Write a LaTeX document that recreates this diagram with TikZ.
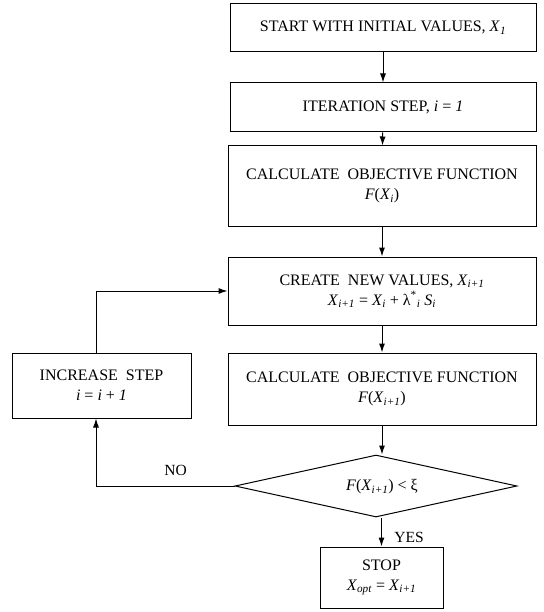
\documentclass[tikz,border=0pt]{standalone}
\usepackage{fontspec}
\setmainfont{Liberation Serif}
\usetikzlibrary{shapes.geometric,arrows.meta}
\newcommand{\vx}[1]{\textit{#1}}
\newcommand{\sbs}[1]{\textsubscript{\textit{#1}}}
\begin{document}
\begin{tikzpicture}[x=1pt,y=-1pt,
  every node/.style={font=\fontsize{16}{20}\selectfont},
  box/.style={draw,line width=1pt,rectangle,align=center,inner sep=2pt},
  flow/.style={line width=1pt,-{Latex[length=9pt,width=6pt]}},
  lbl/.style={font=\fontsize{15.5}{18}\selectfont}]
\useasboundingbox (0,0) rectangle (543,612);
\node[box,minimum width=306pt,minimum height=48pt] (b1) at (383,28) {START\ WITH\ INITIAL\ VALUES,\ \vx{X}\sbs{1}};
\node[box,minimum width=306pt,minimum height=49pt] (b2) at (383,107.5) {ITERATION STEP, \vx{i} = \vx{1}};
\node[box,minimum width=308pt,minimum height=80pt] (b3) at (382,186) {CALCULATE\ \ OBJECTIVE FUNCTION\\\vx{F}(\vx{X}\sbs{i})};
\node[box,minimum width=308pt,minimum height=68pt] (b4) at (382,291) {CREATE\ \ NEW VALUES, \vx{X}\sbs{i+1}\\\vx{X}\sbs{i+1} = \vx{X}\sbs{i} + λ\textsuperscript{*}\sbs{i} \vx{S}\sbs{i}};
\node[box,minimum width=308pt,minimum height=72pt] (b5) at (382,389) {CALCULATE\ \ OBJECTIVE FUNCTION\\\vx{F}(\vx{X}\sbs{i+1})};
\node[draw,line width=1pt,diamond,minimum width=282pt,minimum height=62pt,inner sep=0pt] (d) at (376,486) {};
\node (dt) at (382,487) {\vx{F}(\vx{X}\sbs{i+1}) < ξ};
\node[box,minimum width=123pt,minimum height=61pt] (stop) at (381.5,577.5) {STOP\\\vx{X}\sbs{opt} = \vx{X}\sbs{i+1}};
\node[box,minimum width=179pt,minimum height=65pt] (inc) at (101.5,385.5) {INCREASE\ \ STEP\\\vx{i} = \vx{i} + \vx{1}};
\coordinate (lx) at (96,0);
\draw[flow] (b1) -- (b2);
\draw[flow] (b2) -- (b3);
\draw[flow] (b3) -- (b4);
\draw[flow] (b4) -- (b5);
\draw[flow] (b5.south) -- (d.north -| b5.south);
\draw[flow] (d.south -| stop.north) -- (stop.north);
\draw[flow] (d.west) -| (lx |- inc.south);
\draw[flow] (lx |- inc.north) |- (b4.west);
\node[lbl] (no) at (175.5,470.5) {NO};
\node[lbl] (yes) at (409,537) {YES};
\end{tikzpicture}
\end{document}
